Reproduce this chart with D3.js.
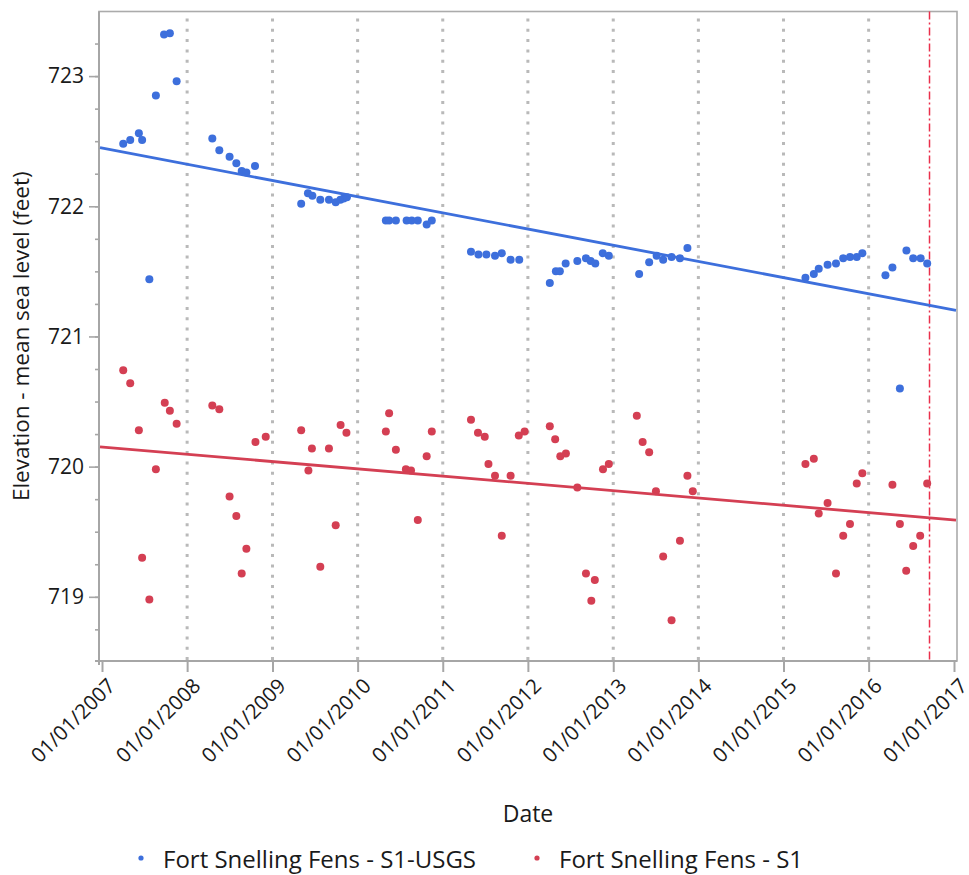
<!DOCTYPE html>
<html>
<head>
<meta charset="utf-8">
<script src="https://cdn.jsdelivr.net/npm/d3@7"></script>
<style>
  body { margin: 0; background: #fff; }
  text { font-family: 'Open Sans', 'Noto Sans', sans-serif; fill: #1a1a1a; }
</style>
</head>
<body>
<div id="chart"></div>
<script>
// data
let usgsDates = [
  '2007-04-02','2007-05-02','2007-06-08','2007-06-22','2007-07-23','2007-08-20','2007-09-24','2007-10-19','2007-11-17',
  '2008-04-18','2008-05-18','2008-07-01','2008-07-30','2008-08-22','2008-09-11','2008-10-18',
  '2009-05-04','2009-06-02','2009-06-21','2009-07-25','2009-08-31','2009-09-29','2009-10-19','2009-11-02','2009-11-16',
  '2010-05-02','2010-05-16','2010-06-14','2010-07-30','2010-08-21','2010-09-16','2010-10-24','2010-11-15',
  '2011-05-02','2011-06-03','2011-07-07','2011-08-13','2011-09-11','2011-10-19','2011-11-25',
  '2012-04-04','2012-04-30','2012-05-17','2012-06-11','2012-07-31','2012-09-06','2012-09-26','2012-10-16','2012-11-17','2012-12-13',
  '2013-04-22','2013-06-04','2013-07-06','2013-08-03','2013-09-08','2013-10-14','2013-11-15',
  '2015-04-05','2015-05-11','2015-06-01','2015-07-09','2015-08-14','2015-09-14','2015-10-13','2015-11-11','2015-12-05',
  '2016-03-13','2016-04-12','2016-05-14','2016-06-11','2016-07-10','2016-08-11','2016-09-08'
]
let usgsLevels = [
  722.48, 722.51, 722.56, 722.51, 721.44, 722.85, 723.32, 723.33, 722.96,
  722.52, 722.43, 722.38, 722.33, 722.27, 722.26, 722.31,
  722.02, 722.10, 722.08, 722.05, 722.05, 722.03, 722.05, 722.06, 722.07,
  721.89, 721.89, 721.89, 721.89, 721.89, 721.89, 721.86, 721.89,
  721.65, 721.63, 721.63, 721.62, 721.64, 721.59, 721.59,
  721.41, 721.50, 721.50, 721.56, 721.58, 721.60, 721.58, 721.56, 721.64, 721.62,
  721.48, 721.57, 721.62, 721.59, 721.61, 721.60, 721.68,
  721.45, 721.48, 721.52, 721.55, 721.56, 721.60, 721.61, 721.61, 721.64,
  721.47, 721.53, 720.60, 721.66, 721.60, 721.60, 721.56
]

let s1Dates = [
  '2007-04-02','2007-05-02','2007-06-08','2007-06-22','2007-07-23','2007-08-20','2007-09-27','2007-10-19','2007-11-17',
  '2008-04-18','2008-05-18','2008-07-01','2008-07-30','2008-08-22','2008-09-11','2008-10-20','2008-12-03',
  '2009-05-04','2009-06-04','2009-06-19','2009-07-25','2009-08-31','2009-09-29','2009-10-20','2009-11-14',
  '2010-05-02','2010-05-16','2010-06-14','2010-07-27','2010-08-18','2010-09-16','2010-10-24','2010-11-15',
  '2011-05-02','2011-06-01','2011-06-30','2011-07-16','2011-08-13','2011-09-11','2011-10-19','2011-11-23','2011-12-18',
  '2012-04-04','2012-04-27','2012-05-19','2012-06-12','2012-07-31','2012-09-06','2012-09-29','2012-10-14','2012-11-18','2012-12-13',
  '2013-04-12','2013-05-07','2013-06-04','2013-07-03','2013-08-03','2013-09-08','2013-10-14','2013-11-15','2013-12-08',
  '2015-04-05','2015-05-11','2015-06-01','2015-07-09','2015-08-14','2015-09-14','2015-10-13','2015-11-11','2015-12-05',
  '2016-04-12','2016-05-14','2016-06-10','2016-07-10','2016-08-09','2016-09-08'
]
let s1Levels = [
  720.74, 720.64, 720.28, 719.30, 718.98, 719.98, 720.49, 720.43, 720.33,
  720.47, 720.44, 719.77, 719.62, 719.18, 719.37, 720.19, 720.23,
  720.28, 719.97, 720.14, 719.23, 720.14, 719.55, 720.32, 720.26,
  720.27, 720.41, 720.13, 719.98, 719.97, 719.59, 720.08, 720.27,
  720.36, 720.26, 720.23, 720.02, 719.93, 719.47, 719.93, 720.24, 720.27,
  720.31, 720.21, 720.08, 720.10, 719.84, 719.18, 718.97, 719.13, 719.98, 720.02,
  720.39, 720.19, 720.11, 719.81, 719.31, 718.82, 719.43, 719.93, 719.81,
  720.02, 720.06, 719.64, 719.72, 719.18, 719.47, 719.56, 719.87, 719.95,
  719.86, 719.56, 719.20, 719.39, 719.47, 719.87
]

// linear fits, value at 01/01/2007 and 01/01/2017
let fitDates = ['2007-01-01', '2017-01-01']
let fitUSGS = [722.447, 721.203]
let fitS1 = [720.151, 719.591]

let refDate = '2016-09-18'

let yearTicks = d3.range(2007, 2018)
let yMajor = [719, 720, 721, 722, 723]

let seriesNames = ['Fort Snelling Fens - S1-USGS', 'Fort Snelling Fens - S1']
let seriesColors = ['#3d6fdc', '#d43f53']

let parse = d3.timeParse('%Y-%m-%d')

let width = 969, height = 875
let frame = { left: 99, right: 957, top: 11.5, bottom: 661 }

let x = d3.scaleTime()
.domain([new Date(2007, 0, 1), new Date(2017, 0, 1)])
.range([102, 954])

let y = d3.scaleLinear()
.domain([718.5, 723.5])
.range([661.9, 11])

let svg = d3.select('#chart')
.append('svg')
.attr('width', width)
.attr('height', height)

// dotted year grid
svg.append('g')
.selectAll('line')
.data(yearTicks.slice(1, -1))
.join('line')
.attr('x1', d => x(new Date(d, 0, 1)))
.attr('x2', d => x(new Date(d, 0, 1)))
.attr('y1', frame.top + 7)
.attr('y2', frame.bottom)
.style('stroke', '#b9b9b9')
.style('stroke-width', 3)
.style('stroke-dasharray', '3,7.3')

// frame
svg.append('rect')
.attr('x', frame.left)
.attr('y', frame.top)
.attr('width', frame.right - frame.left)
.attr('height', frame.bottom - frame.top)
.attr('fill', 'none')
.style('stroke', '#ababab')
.style('stroke-width', 1.6)

svg.append('line')
.attr('x1', frame.left - 4).attr('x2', frame.right)
.attr('y1', frame.bottom).attr('y2', frame.bottom)
.style('stroke', '#a6a6a6').style('stroke-width', 2)

svg.append('line')
.attr('x1', frame.left).attr('x2', frame.left)
.attr('y1', frame.top).attr('y2', frame.bottom + 4)
.style('stroke', '#a6a6a6').style('stroke-width', 2)

// y axis
let yAxis = d3.axisLeft(y)
.tickValues(d3.range(718.75, 723.5, 0.25))
.tickSize(4)
.tickFormat('')

let gy = svg.append('g')
.attr('transform', `translate(${frame.left},0)`)
.call(yAxis)
gy.select('.domain').remove()
gy.selectAll('.tick line').style('stroke', '#a6a6a6').style('stroke-width', 1.6)

let gyMajor = svg.append('g')
.attr('transform', `translate(${frame.left},0)`)
.call(d3.axisLeft(y).tickValues(yMajor).tickSize(10).tickPadding(5).tickFormat(d3.format('d')))
gyMajor.select('.domain').remove()
gyMajor.selectAll('.tick line').style('stroke', '#a6a6a6').style('stroke-width', 1.6)
gyMajor.selectAll('.tick text')
.style('font-size', '21px')
.style('fill', '#1a1a1a')
.attr('font-family', null)

// x axis
let gx = svg.append('g')
.attr('transform', `translate(0,${frame.bottom})`)
.call(d3.axisBottom(x)
  .tickValues(yearTicks.map(d => new Date(d, 0, 1)))
  .tickSize(11)
  .tickFormat(d3.timeFormat('%m/%d/%Y')))
gx.select('.domain').remove()
gx.selectAll('.tick line').style('stroke', '#a6a6a6').style('stroke-width', 2)
gx.selectAll('.tick text')
.attr('font-family', null)
.style('font-size', '20.5px')
.style('fill', '#1a1a1a')
.attr('text-anchor', 'end')
.attr('x', 0)
.attr('y', 0)
.attr('dy', '0.35em')
.attr('transform', 'translate(9,21) rotate(-45)')

// reference line
svg.append('line')
.attr('x1', x(parse(refDate))).attr('x2', x(parse(refDate)))
.attr('y1', frame.top).attr('y2', frame.bottom)
.style('stroke', '#ea2f4b')
.style('stroke-width', 1.5)
.style('stroke-dasharray', '8,3,2,3')

// points
let series = [
  { dates: usgsDates, levels: usgsLevels, fit: fitUSGS },
  { dates: s1Dates, levels: s1Levels, fit: fitS1 }
]

series.forEach((s, i) => {
  svg.append('g')
  .selectAll('circle')
  .data(s.dates.map((d, j) => [parse(d), s.levels[j]]))
  .join('circle')
  .attr('cx', d => x(d[0]))
  .attr('cy', d => y(d[1]))
  .attr('r', 4)
  .attr('fill', seriesColors[i])
})

// fit lines, extended to the frame edges
series.forEach((s, i) => {
  let t0 = parse(fitDates[0]), t1 = parse(fitDates[1])
  let slope = (s.fit[1] - s.fit[0]) / (t1 - t0)
  let ends = [x.invert(frame.left + 1), x.invert(frame.right - 1)]
  .map(t => [t, s.fit[0] + slope * (t - t0)])

  svg.append('path')
  .datum(ends)
  .attr('d', d3.line().x(d => x(d[0])).y(d => y(d[1])))
  .attr('fill', 'none')
  .style('stroke', seriesColors[i])
  .style('stroke-width', 2.8)
})

// axis titles
svg.append('text')
.attr('transform', `translate(29,${(frame.top + frame.bottom) / 2}) rotate(-90)`)
.attr('text-anchor', 'middle')
.style('font-size', '22.5px')
.text('Elevation - mean sea level (feet)')

svg.append('text')
.attr('x', (frame.left + frame.right) / 2)
.attr('y', 822)
.attr('text-anchor', 'middle')
.style('font-size', '23px')
.text('Date')

// legend
let legendX = [141, 537]
let legend = svg.append('g')
.selectAll('g')
.data(seriesNames)
.join('g')
.attr('transform', (d, i) => `translate(${legendX[i]},858)`)

legend.append('circle')
.attr('r', 2.6)
.attr('fill', (d, i) => seriesColors[i])

legend.append('text')
.attr('x', 22)
.attr('y', 10)
.style('font-size', '24px')
.text(d => d)
</script>
</body>
</html>
